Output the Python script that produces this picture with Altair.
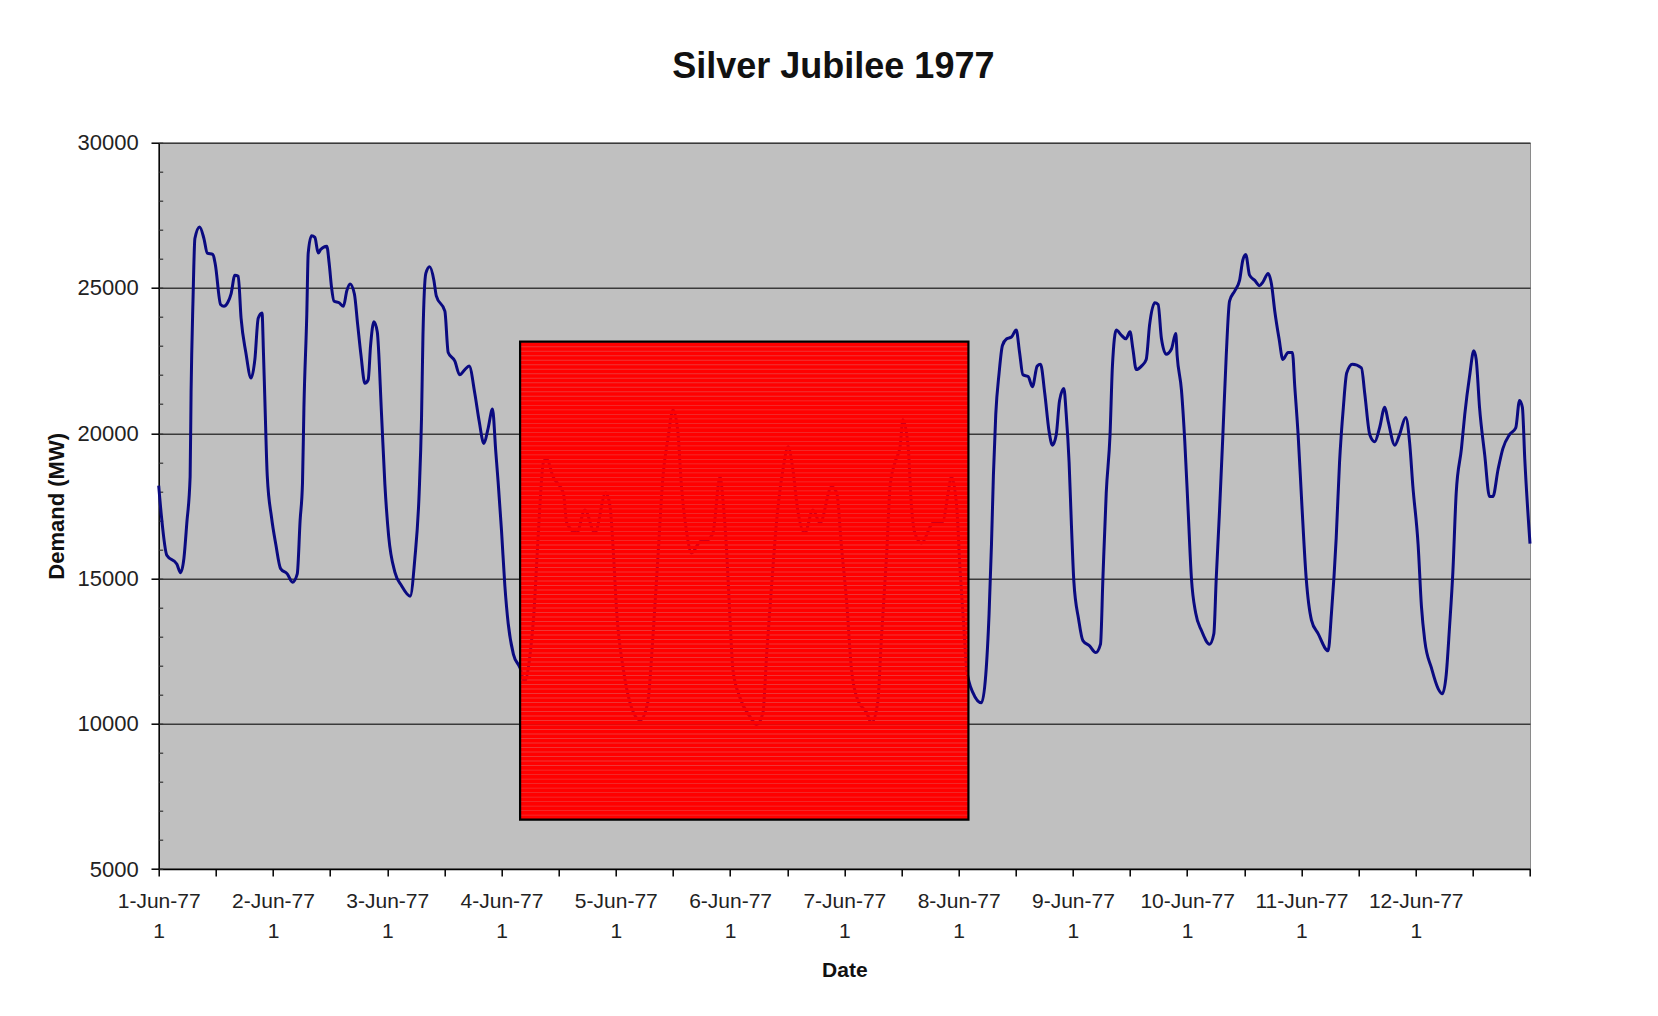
import altair as alt
import pandas as pd

# ---- data (hours after 1-Jun-77 00:00, demand in MW) ----
hours = [
    0, 0.6, 1.7, 3.8, 4.6, 5.3, 5.9, 6.6, 6.8, 7.2, 7.6, 8.6, 9.5, 10.2, 11.4, 11.9,
    13.0, 13.7, 14.5, 15.2, 16.0, 16.7, 17.3, 18.3, 19.4, 20.2, 20.9, 21.7, 22.0, 22.3,
    22.8, 23.7, 24.6, 25.6, 27.0, 28.1, 29.1, 29.7, 30.2, 30.5, 31.1, 31.4, 32.1, 32.8,
    33.5, 34.0, 35.3, 35.8, 36.3, 36.8, 37.9, 38.8, 39.5, 40.2, 41.1, 41.8, 42.5, 43.3,
    44.0, 44.5, 45.2, 45.9, 46.8, 47.5, 48.3,
    49.6, 51.0, 52.8, 53.8, 54.7, 55.2, 55.5, 56.1, 56.9, 57.8, 58.3, 60.1, 60.8, 62.2,
    63.2, 64.3, 65.2, 66.4, 67.3, 68.3, 69.2, 70.1, 70.8, 71.3, 72.0, 72.7, 73.4, 74.5,
    75.9, 76.8, 78.0, 78.8, 79.4, 80.0, 80.8, 81.5,
    82.8, 85.0, 85.7, 87.8, 89.5, 91.6, 93.9, 94.8, 95.5, 96.2, 97.6, 99.0, 101.1, 102.7,
    103.8, 104.9, 105.9, 107.0, 108.0, 109.0, 109.8, 110.9, 111.9, 113.7, 115.3, 116.4,
    117.9, 118.5, 119.3, 120.0, 120.6, 122.0, 124.2, 125.6, 126.9, 127.7, 128.7, 129.8,
    131.1, 132.2, 133.2, 134.2, 135.7, 137.4, 138.9, 141.3, 142.4, 143.4, 144.5, 145.5,
    146.8, 148.7, 149.7, 151.0, 151.8, 152.9, 153.6, 154.6, 155.7, 156.3, 157.4, 158.1,
    158.8, 160.2, 162.6, 164.7, 165.8, 166.5, 167.6, 168.3, 169.0, 169.7, 171.0, 172.8,
    173.7, 174.4, 174.9, 175.3, 175.8, 176.5, 177.2, 178.1, 179.1, 180.1, 180.8, 181.5,
    182.6, 183.5, 184.5, 185.2, 186.1, 187.0, 187.7, 188.5, 189.2, 190.1, 190.6, 191.2,
    191.7, 192.2, 193.2, 194.1, 195.5, 196.8, 197.8, 198.3, 199.0, 199.8, 200.3, 201.1,
    202.2, 203.1, 204.0, 204.6, 205.3, 206.4, 207.4, 208.1, 209.2, 209.9, 210.6, 211.6,
    212.7, 213.6, 213.9, 214.8, 215.5, 216.2, 216.9, 217.8, 219.0, 220.7, 221.6, 222.1,
    222.8, 223.5, 224.2, 224.9, 226.0, 227.0, 227.7, 228.3, 229.1, 230.2, 231.2, 231.9,
    233.0, 233.7, 234.4, 235.3, 236.1, 237.2, 238.1, 238.6, 239.3, 240.1, 241.0, 242.1,
    243.5, 245.6, 246.3, 247.3, 248.0, 248.8, 249.5, 250.7, 252.6, 253.3, 254.35, 255.4,
    256.4, 257.5, 258.2, 259.6, 260.6, 261.9, 262.7, 263.4, 264.5, 265.2, 265.9, 267.3,
    268.7, 269.6, 270.4, 271.1, 271.8, 272.5, 273.6, 274.3, 275.3, 276.2, 276.7, 277.4,
    278.5, 279.5, 280.2, 281.3, 282.3, 283.7, 285.0, 285.8, 286.4, 286.9, 288.0,
]
demand = [
    18200, 17100, 15800, 15500, 15200, 15700, 16900, 18500, 21400, 24550, 26700, 27100, 26700, 26200, 26150, 25800,
    24430, 24370, 24500, 24800, 25440, 25400, 23960, 22780, 21900, 22540, 23960, 24140, 22780, 21130,
    18530, 17100, 16170, 15340, 15160, 14870, 15160, 17000, 18290, 20890, 24080, 26200, 26800, 26740,
    26200, 26320, 26440, 25850, 25020, 24550, 24490, 24370, 24900, 25140, 24790, 23720, 22660, 21720,
    21840, 23020, 23840, 23490, 20650, 18250, 16450,
    15220, 14750, 14390, 15690, 17940, 20540, 23370, 25500, 25730, 25260, 24730, 24200, 22780, 22480,
    22010, 22190, 22310, 21360, 20420, 19650, 20180, 20830, 19350, 18290, 16640, 14750, 13450, 12390,
    11920, 11450, 12390, 13800, 15570, 17340, 19000, 19120,
    18510, 17940, 16910, 16570, 17360, 16570, 17950, 17470, 15870, 13820, 11860, 10720, 10130, 10720,
    13000, 15880, 18500, 19870, 20800, 20110, 18160, 16570, 15880, 16270, 16330, 16570,
    18500, 17710, 15880, 13570, 11860, 10930, 10240, 9970, 10380, 12440, 14710, 17020,
    18740, 19530, 18740, 17360, 16570, 17360, 16910, 18160, 17950, 16090, 14160, 11860,
    10820, 10380, 10030, 10720, 13000, 15880, 18160, 18980, 19530, 20460, 19530, 17470,
    16570, 16220, 16910, 16960, 17950, 18500, 17470, 15300, 13570, 11860, 11070, 10720,
    11680, 13800, 16170, 18530, 20650, 22070, 23020, 23250, 23310, 23550, 22780, 22010,
    21950, 21600, 22310, 22370, 21360, 20060, 19590, 19950, 21130, 21540, 20650, 19000,
    16800, 14900, 13600, 12860, 12680, 12450, 12740, 14990, 17940, 19950, 22310, 23550,
    23370, 23250, 23490, 22900, 22190, 22310, 22540, 23720, 24490, 24430, 23250, 22720,
    22900, 23430, 22660, 21480, 19710, 17350, 14990, 13800, 13210, 12740, 13100, 14990,
    17350, 19950, 22660, 24550, 24900, 25260, 25970, 26150, 25440, 25260, 25080, 25200,
    25500, 25140, 24200, 23250, 22540, 22780, 22780, 21600, 19950, 17500, 15000, 13570,
    13100, 12510, 13800, 16400, 19000, 20890, 22070, 22370, 22250, 21360, 19950, 19710,
    20180, 20890, 20420, 19590, 19950, 20540, 19710, 18170, 16170, 14040, 12860, 11920,
    11210, 11030, 11680, 13330, 15220, 17940, 19470, 20650, 21950, 22840, 22540, 20890,
    19240, 17820, 17820, 18760, 19470, 19950, 20180, 21130, 20890, 19120, 16200,
]

day_labels = ["1-Jun-77", "2-Jun-77", "3-Jun-77", "4-Jun-77", "5-Jun-77", "6-Jun-77",
              "7-Jun-77", "8-Jun-77", "9-Jun-77", "10-Jun-77", "11-Jun-77", "12-Jun-77"]
x_ticks = list(range(0, 289, 12))
y_ticks = [5000, 10000, 15000, 20000, 25000, 30000]
y_minor = list(range(5000, 30001, 1000))

# highlighted Jubilee holiday block (hours / MW) and its hatch spacing (MW)
box_x = [75.9]
box_x2 = [170.06]
box_y = [6700]
box_y2 = [23150]
hatch_step = 155

df = pd.DataFrame({"hour": hours, "demand": demand})
box = pd.DataFrame({"x": box_x, "x2": box_x2, "y": box_y, "y2": box_y2})

W = 1371.3
H = 726.3
FONT = "Liberation Sans, Arial, sans-serif"

xs = alt.Scale(domain=[0, 288], nice=False, zero=False)
ys = alt.Scale(domain=[5000, 30000], nice=False, zero=False)

label_arr = "[" + ",".join('"%s"' % s for s in day_labels) + "]"
label_expr = ("datum.value % 24 == 0 && datum.value < 288 ? [" + label_arr +
              "[datum.value / 24], '1'] : ''")

x_axis = alt.Axis(values=x_ticks, labelExpr=label_expr, grid=False, tickSize=7,
                  tickColor="black", tickWidth=1.5, domainColor="black", domainWidth=1.5,
                  labelFont=FONT, labelFontSize=21, labelColor="#222222", labelLineHeight=30,
                  labelBaseline="top", labelPadding=14, labelOverlap=False, labelFlush=False,
                  title="Date", titleFont=FONT, titleFontSize=21, titleFontWeight="bold",
                  titleColor="#111111", titleX=W / 2, titleY=101.5, titleBaseline="middle",
                  titleAlign="center")

y_axis = alt.Axis(values=y_ticks, format="d", grid=True, gridColor="#3a3a3a", gridWidth=1.6,
                  tickSize=7.7, tickColor="black", tickWidth=1.5, domainColor="black",
                  domainWidth=1.5, labelFont=FONT, labelFontSize=22, labelColor="#222222",
                  labelPadding=12.7, labelFlush=False,
                  title="Demand (MW)", titleFont=FONT, titleFontSize=22, titleFontWeight="bold",
                  titleColor="#111111", titleAngle=270, titleX=-102.7, titleY=H / 2,
                  titleAlign="center", titleBaseline="middle")

y_minor_axis = alt.Axis(orient="right", offset=-W, values=y_minor, tickSize=4,
                        tickColor="#333333", tickWidth=1.2, labels=False, domain=False,
                        grid=False, title=None)

line = alt.Chart(df).mark_line(color="#0a0a80", strokeWidth=3, interpolate="monotone").encode(
    x=alt.X("hour:Q", scale=xs, axis=x_axis),
    y=alt.Y("demand:Q", scale=ys, axis=y_axis),
)

frame_fill = alt.Chart(box).mark_rect(fill="#ff0000", fillOpacity=0.72, strokeWidth=0).encode(
    x=alt.X("x:Q", scale=xs, axis=x_axis),
    x2="x2:Q",
    y=alt.Y("y:Q", scale=ys, axis=None),
    y2="y2:Q",
)

# red hatch bands: red lines with thin gaps that let the curve show through
hatch = alt.Chart(alt.sequence(box_y[0] + hatch_step / 2, box_y2[0], hatch_step, as_="level")).mark_rule(
    color="#ff0000", strokeWidth=3.6
).encode(
    x=alt.X("bx:Q", scale=xs, axis=x_axis),
    x2="bx2:Q",
    y=alt.Y("level:Q", scale=ys, axis=y_minor_axis),
).transform_calculate(bx=str(box_x[0]), bx2=str(box_x2[0]))

frame_border = alt.Chart(box).mark_rect(fillOpacity=0, stroke="black", strokeWidth=2.2).encode(
    x=alt.X("x:Q", scale=xs, axis=x_axis),
    x2="x2:Q",
    y=alt.Y("y:Q", scale=ys, axis=None),
    y2="y2:Q",
)

chart = alt.layer(line, frame_fill, hatch, frame_border).resolve_axis(y="independent").properties(
    width=W,
    height=H,
    title=alt.TitleParams("Silver Jubilee 1977", font=FONT, fontSize=36, fontWeight="bold",
                          color="#111111", anchor="middle", offset=46, dx=-11),
    autosize=alt.AutoSizeParams(type="none"),
    padding={"left": 150.7, "top": 134.7, "right": 110, "bottom": 130},
).configure(background="white").configure_view(fill="#c0c0c0", stroke="#8a8a8a", strokeWidth=1)

chart.save("out.html", embed_options={"renderer": "svg", "actions": False})
